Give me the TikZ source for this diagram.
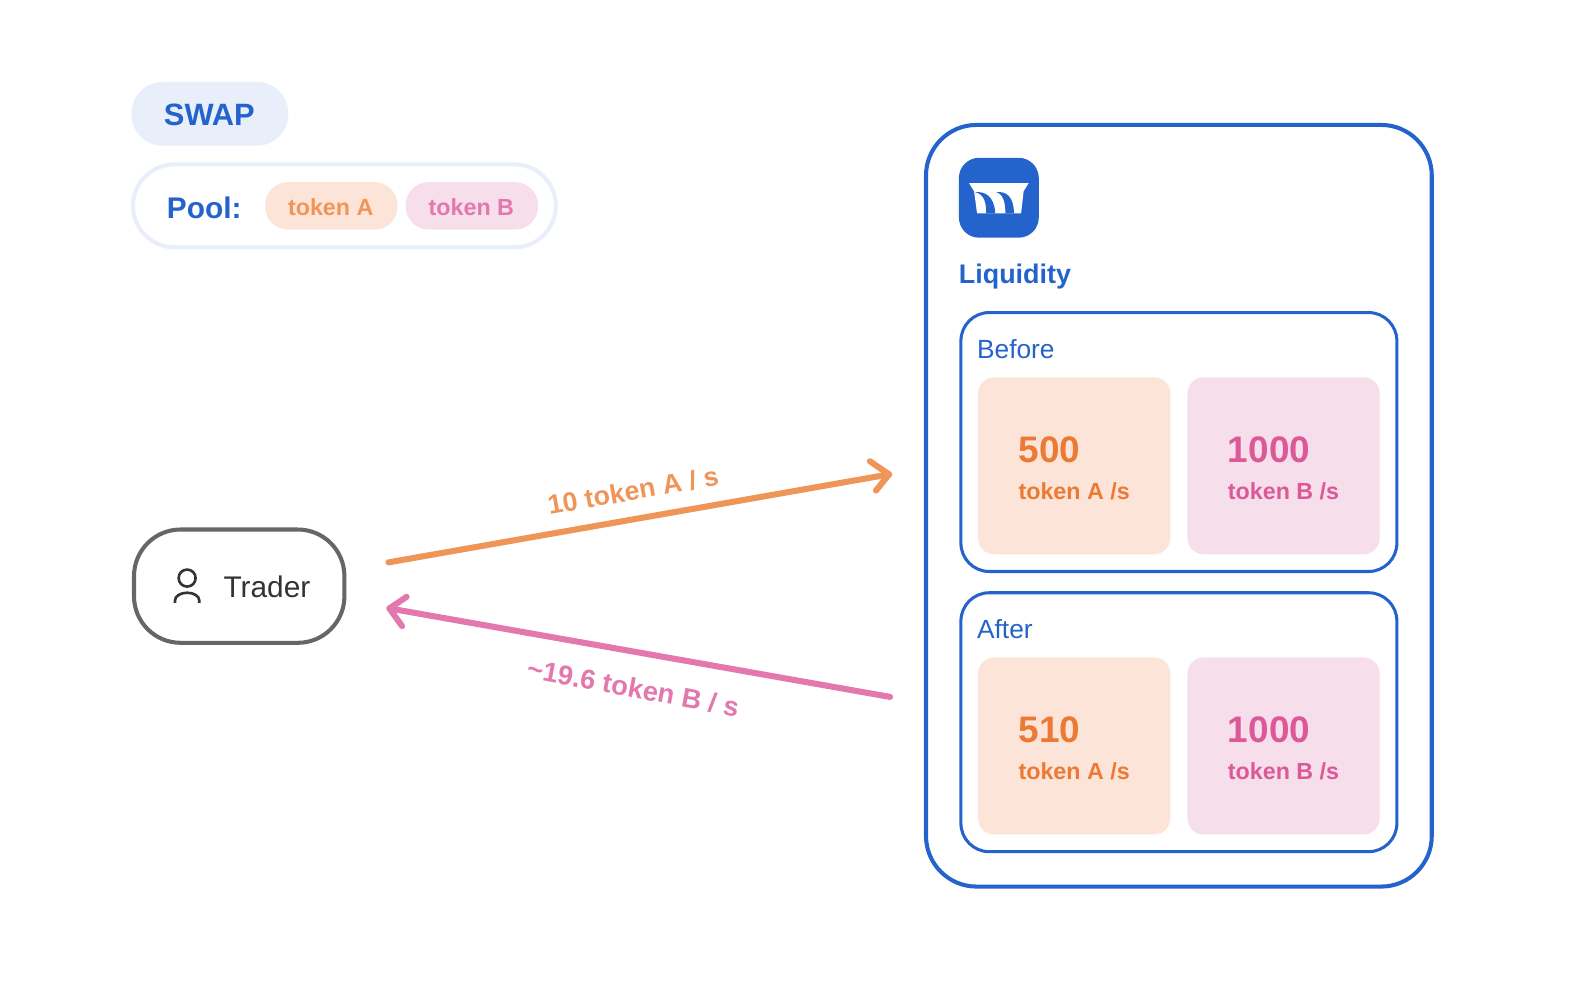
\documentclass[tikz,border=0pt]{standalone}
\usepackage{fontspec}
\setmainfont{Liberation Sans}
\definecolor{blu}{HTML}{2563CC}
\definecolor{palebl}{HTML}{E8EEFA}
\definecolor{palor}{HTML}{FCE4D8}
\definecolor{palpk}{HTML}{F6DEEB}
\definecolor{ora}{HTML}{F09558}
\definecolor{pnk}{HTML}{E377AE}
\definecolor{dora}{HTML}{EC7A35}
\definecolor{dpnk}{HTML}{DC5898}
\definecolor{gry}{HTML}{666666}
\definecolor{ink}{HTML}{333333}
\newcommand{\fs}[1]{\fontsize{#1}{#1}\selectfont}
\tikzset{
 box/.style={inner sep=0pt,outer sep=0pt,rectangle},
 txt/.style={inner sep=0pt,outer sep=0pt},
 flowA/.style={draw=ora,line width=6pt,line cap=round,line join=round},
 flowB/.style={draw=pnk,line width=6pt,line cap=round,line join=round},
 stock/.style={box,minimum width=190pt,minimum height=175pt,rounded corners=16pt},
 frame/.style={box,draw=blu,line width=3pt,minimum width=431pt,minimum height=256pt,rounded corners=28pt},
 stocktxt/.style={txt,anchor=base west},
}
\begin{document}
\begin{tikzpicture}[x=1pt,y=-1pt]
\useasboundingbox (0,0) rectangle (1568,978);
\fill[white] (0,0) rectangle (1568,978);
% header
\node[box,fill=palebl,minimum width=155pt,minimum height=63pt,rounded corners=31pt] (swap) at (207.5,112.5) {};
\node[txt,text=blu,font=\bfseries\fs{30.5}] (swapt) at (207,114) {SWAP};
\node[box,draw=palebl,line width=4pt,minimum width=418pt,minimum height=82pt,rounded corners=41pt] (pool) at (340.5,203.5) {};
\node[txt,text=blu,font=\bfseries\fs{29.5},anchor=west] (poolt) at (165,205) {Pool:};
\node[box,fill=palor,minimum width=131pt,minimum height=47pt,rounded corners=23pt] (pa) at (327.5,203.5) {};
\node[txt,text=ora,font=\bfseries\fs{23}] (pat) at (327,204.5) {token A};
\node[box,fill=palpk,minimum width=131pt,minimum height=47pt,rounded corners=23pt] (pb) at (466.5,203.5) {};
\node[txt,text=pnk,font=\bfseries\fs{23}] (pbt) at (466,204.5) {token B};
% trader
\node[box,draw=gry,line width=4pt,minimum width=208pt,minimum height=112pt,rounded corners=46pt] (trader) at (236.5,579.5) {};
\node[txt,text=ink,font=\fs{29.5},anchor=west] (tradert) at (221,580) {Trader};
\draw[ink,line width=2.6pt] (185,571.5) circle (8.4pt);
\draw[ink,line width=2.6pt] (173,596) -- (173,593.5) arc[start angle=180,end angle=0,x radius=12pt,y radius=7.5pt] -- (197,596);
% arrows
\coordinate (a0) at (384,556);
\coordinate (a1) at (879,469);
\coordinate (a2) at (860,456);
\coordinate (a3) at (866,485);
\draw[flowA] (a0) -- (a1);
\draw[flowA] (a2) -- (a1) -- (a3);
\node[txt,text=ora,font=\bfseries\fs{26.5},rotate=10] (la) at (626,485) {10 token A / s};
\coordinate (b0) at (880,689);
\coordinate (b1) at (385,601.5);
\coordinate (b2) at (402,590);
\coordinate (b3) at (397.5,619);
\draw[flowB] (b0) -- (b1);
\draw[flowB] (b2) -- (b1) -- (b3);
\node[txt,text=pnk,font=\bfseries\fs{27},rotate=-10.5] (lb) at (626,680) {\char`\~19.6 token B / s};
% liquidity
\node[box,draw=blu,line width=4pt,minimum width=500pt,minimum height=753pt,rounded corners=50pt] (liq) at (1165.5,500) {};
\node[box,fill=blu,minimum width=79pt,minimum height=79pt,rounded corners=20pt] (icon) at (987.5,195.5) {};
\begin{scope}[shift={(948,156)}]
\fill[white] (10,25) -- (69,25) -- (64,33) -- (61.5,55) -- (18,55) -- (15,33) -- cycle;
\fill[blu] (16,34) .. controls (26,33) and (35,38) .. (36,55) -- (27,55) .. controls (27,44) and (25,36) .. (16,34) -- cycle;
\fill[blu] (37,34) .. controls (47,33) and (54,38) .. (54.5,55) -- (46,55) .. controls (46,44) and (44,36) .. (37,34) -- cycle;
\end{scope}
\node[txt,text=blu,font=\bfseries\fs{26.6},anchor=base west] (liqt) at (948,280.5) {Liquidity};
\node[frame] (before) at (1165.5,437) {};
\node[txt,text=blu,font=\fs{26},anchor=base west] (bt) at (966,354.5) {Before};
\node[stock,fill=palor] (b1box) at (1062,460.5) {};
\node[stock,fill=palpk] (b2box) at (1269,460.5) {};
\node[stocktxt,text=dora,font=\bfseries\fs{36.5}] at (1007,457.5) {500};
\node[stocktxt,text=dora,font=\bfseries\fs{23}] at (1007,493.5) {token A /s};
\node[stocktxt,text=dpnk,font=\bfseries\fs{36.5}] at (1214,457.5) {1000};
\node[stocktxt,text=dpnk,font=\bfseries\fs{23}] at (1214,493.5) {token B /s};
\node[frame] (after) at (1165.5,714) {};
\node[txt,text=blu,font=\fs{26},anchor=base west] (at) at (966,631.5) {After};
\node[stock,fill=palor] (a1box) at (1062,737.5) {};
\node[stock,fill=palpk] (a2box) at (1269,737.5) {};
\node[stocktxt,text=dora,font=\bfseries\fs{36.5}] at (1007,734.5) {510};
\node[stocktxt,text=dora,font=\bfseries\fs{23}] at (1007,770.5) {token A /s};
\node[stocktxt,text=dpnk,font=\bfseries\fs{36.5}] at (1214,734.5) {1000};
\node[stocktxt,text=dpnk,font=\bfseries\fs{23}] at (1214,770.5) {token B /s};
\end{tikzpicture}
\end{document}
